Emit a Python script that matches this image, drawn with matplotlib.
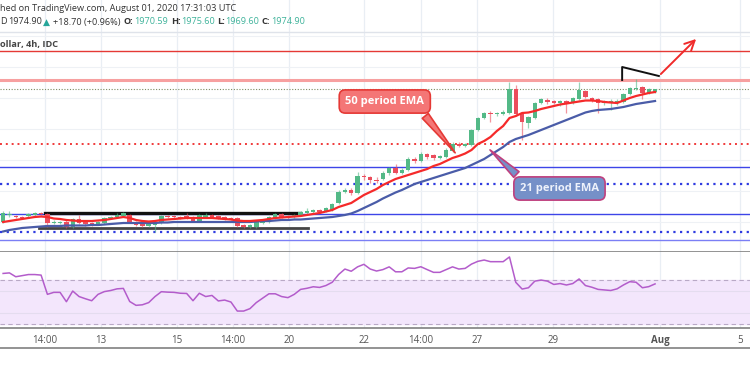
import numpy as np
import matplotlib
matplotlib.use('Agg')
import matplotlib.pyplot as plt
from matplotlib.lines import Line2D

plt.rcParams['font.family'] = ['Open Sans', 'DejaVu Sans']

# 4h candles, XAU/USD, Jul 10 - Jul 31 2020
opens = [1789.2, 1799, 1797.6, 1796.2, 1797.6, 1799, 1801.8, 1800.4, 1787.8, 1787.8,
         1789.2, 1782.2, 1793.4, 1789.2, 1787.8, 1786.4, 1787.8, 1794.8, 1796.2, 1797.6,
         1799, 1789.2, 1786.4, 1783.6, 1785, 1787.8, 1797.6, 1797.6, 1796.2, 1797.6,
         1796.2, 1790.6, 1796.2, 1799, 1797.6, 1796.2, 1794.8, 1794.8, 1785, 1782.2,
         1782.2, 1787.8, 1789.2, 1794.8, 1800.4, 1797.6, 1796.2, 1799, 1801.8, 1803.2,
         1806, 1804.6, 1806, 1815.8, 1831.2, 1834, 1829.8, 1853.6, 1852.2, 1848,
         1849.4, 1857.8, 1864.8, 1857.8, 1862, 1877.4, 1874.6, 1884.4, 1883, 1878.8,
         1880.2, 1888.6, 1898.4, 1895.6, 1897, 1918, 1934.8, 1941.8, 1940.4, 1940.4,
         1941.8, 1975.4, 1941.8, 1927.8, 1934.8, 1955.8, 1960, 1958.6, 1955.8, 1958.6,
         1955.8, 1961.4, 1972.6, 1962.8, 1961.4, 1955.8, 1955.8, 1955.8, 1957.2, 1968.4,
         1976.1, 1978.2, 1969.8, 1970.59]
highs = [1804.6, 1804.6, 1799, 1797.6, 1801.8, 1803.2, 1803.2, 1801.8, 1792, 1790.6,
         1792, 1794.8, 1799, 1790.6, 1789.2, 1790.6, 1796.2, 1797.6, 1801.8, 1803.2,
         1800.4, 1790.6, 1787.8, 1789.2, 1792, 1799, 1799, 1799, 1797.6, 1801.8,
         1797.6, 1800.4, 1801.8, 1800.4, 1799, 1797.6, 1796.2, 1796.2, 1786.4, 1786.4,
         1790.6, 1792, 1797.6, 1801.8, 1801.8, 1799, 1800.4, 1804.6, 1808.8, 1807.4,
         1807.4, 1810.2, 1815.8, 1834, 1836.8, 1836.8, 1859.2, 1856.4, 1853.6, 1852.2,
         1860.6, 1866.2, 1870.4, 1864.8, 1880.2, 1880.2, 1887.2, 1885.8, 1884.4, 1883,
         1892.8, 1901.2, 1901.2, 1899.8, 1919.4, 1936.2, 1943.2, 1944.6, 1943.2, 1946,
         1985.2, 1981, 1943.2, 1937.6, 1957.2, 1962.8, 1962.8, 1960, 1960, 1960,
         1964.2, 1985.2, 1974, 1964.2, 1962.8, 1960, 1961.4, 1961.4, 1969.8, 1978.2,
         1989.4, 1979.6, 1976.8, 1975.6]
lows = [1787.8, 1796.2, 1794.8, 1794.1, 1796.2, 1797.6, 1799, 1782.2, 1786.4, 1786.4,
        1780.8, 1780.8, 1786.4, 1783.6, 1783.6, 1785, 1786.4, 1793.4, 1794.8, 1796.2,
        1787.8, 1783.6, 1782.2, 1782.2, 1775.2, 1786.4, 1794.8, 1794.8, 1793.4, 1793.4,
        1789.2, 1789.2, 1794.8, 1794.8, 1793.4, 1792, 1792, 1782.2, 1780.8, 1780.8,
        1780.8, 1786.4, 1787.8, 1793.4, 1794.8, 1793.4, 1794.8, 1797.6, 1800.4, 1801.8,
        1801.8, 1803.2, 1804.6, 1814.4, 1829.8, 1827, 1828.4, 1848, 1843.8, 1843.8,
        1848, 1855, 1856.4, 1856.4, 1860.6, 1871.8, 1873.2, 1877.4, 1876, 1877.4,
        1878.8, 1887.2, 1894.2, 1894.2, 1895.6, 1916.6, 1933.4, 1929.2, 1937.6, 1939,
        1940.4, 1937.6, 1904, 1920.8, 1933.4, 1954.4, 1954.4, 1954.4, 1951.6, 1941.8,
        1954.4, 1960, 1962.8, 1957.2, 1941.8, 1953, 1946, 1953, 1955.8, 1967,
        1974, 1961.4, 1968.4, 1969.6]
closes = [1801.8, 1800.4, 1796.2, 1795.5, 1800.4, 1801.8, 1800.4, 1787.8, 1789.2, 1789.2,
          1782.2, 1793.4, 1787.8, 1786.4, 1785, 1789.2, 1794.8, 1796.2, 1799, 1801.8,
          1789.2, 1785, 1783.6, 1787.8, 1786.4, 1797.6, 1796.2, 1796.2, 1794.8, 1794.8,
          1790.6, 1799, 1799, 1796.2, 1794.8, 1793.4, 1793.4, 1783.6, 1782.2, 1785,
          1789.2, 1790.6, 1796.2, 1800.4, 1796.2, 1794.8, 1799, 1803.2, 1804.6, 1806,
          1803.2, 1808.8, 1814.4, 1831.2, 1834, 1829.8, 1853.6, 1852.2, 1848, 1847.3,
          1857.8, 1864.8, 1857.8, 1862, 1877.4, 1874.6, 1884.4, 1880.2, 1878.8, 1881.6,
          1890, 1898.4, 1895.6, 1897.7, 1918, 1934.8, 1941.8, 1940.4, 1941.8, 1943.2,
          1975.4, 1940.4, 1929.2, 1936.2, 1955.8, 1961.4, 1957.2, 1956.5, 1958.6, 1954.4,
          1962.8, 1974, 1964.2, 1958.6, 1955.8, 1958.6, 1958.6, 1959.3, 1968.4, 1976.8,
          1976.8, 1969.8, 1975.4, 1974.9]

# moving averages as drawn on the chart
ema_red = [1789.2, 1790.6, 1792, 1793.4, 1794.8, 1796.2, 1796.9, 1796.2, 1794.1, 1793.4,
           1792, 1791.3, 1790.6, 1790.6, 1790.6, 1791.3, 1792, 1793.4, 1794.8, 1796.2,
           1794.8, 1792, 1790.6, 1789.9, 1790.6, 1792, 1792.7, 1793.4, 1794.1, 1794.8,
           1794.8, 1794.8, 1794.8, 1794.8, 1794.1, 1793.4, 1792.7, 1791.3, 1790.6, 1790.6,
           1791.3, 1792, 1793.4, 1794.8, 1795.5, 1796.2, 1796.9, 1797.6, 1799, 1800.4,
           1801.8, 1803.9, 1806, 1810.2, 1813, 1815.8, 1821.4, 1827, 1831.2, 1835.4,
           1841, 1845.2, 1849.4, 1852.2, 1855, 1857.8, 1860.6, 1863.4, 1867.6, 1870.4,
           1874.6, 1878.8, 1881.6, 1885.1, 1890, 1898.4, 1902.6, 1908.2, 1916.6, 1923.6,
           1934.8, 1937.6, 1941.8, 1942.5, 1944.6, 1947.4, 1949.5, 1951.6, 1953.7, 1955.1,
           1956.5, 1957.9, 1959.3, 1959.3, 1958.6, 1957.2, 1956.5, 1955.8, 1959.3, 1962.8,
           1965.6, 1967.7, 1969.8, 1971.2]
ema_blue = [1775.9, 1778, 1779.4, 1780.8, 1781.5, 1782.2, 1782.9, 1783.6, 1783.6, 1783.6,
            1784.3, 1784.3, 1784.3, 1784.3, 1785, 1785, 1785.7, 1786.4, 1787.1, 1787.8,
            1787.8, 1787.8, 1787.8, 1787.8, 1787.8, 1788.5, 1788.5, 1789.2, 1789.2, 1789.2,
            1789.2, 1789.2, 1789.2, 1789.2, 1789.2, 1789.2, 1789.2, 1789.2, 1789.2, 1789.2,
            1789.9, 1790.6, 1790.6, 1791.3, 1792, 1792, 1792.7, 1792.7, 1793.4, 1794.1,
            1794.8, 1795.5, 1796.2, 1797.6, 1799, 1801.1, 1804.6, 1808.8, 1813, 1817.2,
            1822.1, 1826.3, 1830.5, 1834, 1838.2, 1842.4, 1845.2, 1848, 1850.8, 1853.6,
            1856.4, 1859.2, 1862, 1864.8, 1869, 1873.2, 1877.4, 1883, 1888.6, 1894.2,
            1901.2, 1905.4, 1908.2, 1911, 1914.5, 1918, 1921.5, 1925, 1928.5, 1932,
            1935.5, 1939, 1942.5, 1944.6, 1946, 1946.7, 1947.4, 1948.8, 1950.2, 1952.3,
            1954.4, 1955.8, 1957.2, 1958.6]

rsi = [76, 76.5, 73, 74, 75, 75, 74.5, 57, 58.8, 58.8,
       50.3, 60, 55, 53, 51.2, 57, 59.5, 60.5, 62, 62.4,
       50.5, 47, 47.5, 49.5, 55, 59.4, 59, 58.8, 58, 57.8,
       51.2, 58, 55, 56, 51, 51.8, 50, 41.8, 41.8, 44,
       49.5, 53.5, 57.5, 57.5, 55, 54, 57, 61.5, 62.5, 63.9,
       63.3, 65, 68, 75, 80, 78, 82, 84.3, 80, 78.2,
       79.5, 82, 77.5, 77.5, 81, 80.6, 82.1, 79.5, 77, 77,
       79.5, 82, 80, 80.6, 84.5, 87, 88.2, 86.7, 86.7, 86.7,
       91, 67.9, 61.8, 63, 69, 70, 69, 66, 66.8, 65.5,
       66.8, 71, 65, 63.5, 61.5, 61, 60.5, 62, 65.5, 68.5,
       68, 63, 64, 66.5]

tick_pos = [6.6, 15.5, 27.5, 36.3, 45.2, 57.0, 66.0, 74.9, 86.9, 103.8, 116.4]
tick_lbl = ['14:00', '13', '15', '14:00', '20', '22', '14:00', '27', '29', 'Aug', '5']

# horizontal levels drawn by the author
lvl_red_top = 2028.6
lvl_pink = 1988.0
lvl_red_dot = 1898.4
lvl_blue_solid = [1866.2, 1800.4]
lvl_blue_dot = [1842.4, 1775.9]
lvl_blue_low = 1764.0

fig = plt.figure(figsize=(7.5, 3.75), dpi=100)
ax = fig.add_axes([0, 123 / 375, 1, 252 / 375])
axr = fig.add_axes([0, 47 / 375, 1, 76 / 375])

x = np.arange(len(opens))
o = np.array(opens)
c = np.array(closes)
up = c >= o

for a in (ax, axr):
    a.set_xlim(-0.49, 118.0)
    for p in tick_pos:
        a.axvline(p, color='#e9eef4', lw=0.9, zorder=0)
    for s in ('top', 'left', 'right'):
        a.spines[s].set_visible(False)
    a.spines['bottom'].set_color('#808080')
    a.spines['bottom'].set_linewidth(1.2)
    a.set_yticks([])

ax.set_ylim(1747.2, 2100)
for g in [2049.4, 2006.2, 1962.8, 1919.4, 1876, 1832.6, 1789.2]:
    ax.axhline(g, color='#eef1f5', lw=0.8, zorder=0)
ax.axhline(2054.8, color='#dfe3ea', lw=1.0, zorder=0)
ax.set_xticks([])

# levels
ax.axhline(lvl_red_top, color='#e53935', lw=1.0, zorder=1)
ax.axhline(lvl_pink, color='#f7a0a0', lw=2.2, zorder=1)
ax.axhline(closes[-1], color='#7d8b64', lw=0.8, ls=(0, (1, 1.5)), zorder=1)
ax.axhline(lvl_red_dot, color='#f03a3a', lw=1.4, ls=(0, (1, 2)), zorder=1)
for v in lvl_blue_solid:
    ax.axhline(v, color='#3d45e8', lw=1.0, zorder=1)
for v in lvl_blue_dot:
    ax.axhline(v, color='#2f3be0', lw=1.6, ls=(0, (1, 2)), zorder=1)
ax.axhline(lvl_blue_low, color='#7b7ff5', lw=1.0, zorder=1)

# range box
ax.plot([6.6, 46.9], [1801.8, 1801.8], color='#111111', lw=2.4, zorder=2)
ax.plot([5.7, 48.2], [1781.2, 1781.2], color='#444444', lw=2.0, zorder=2)

# candles
body_col = np.where(up, '#53b987', '#eb4d5c')
ax.vlines(x, lows, highs, colors=body_col, lw=0.9, alpha=0.6, zorder=3)
ax.bar(x, np.maximum(np.abs(c - o), 0.9), bottom=np.minimum(o, c), width=0.7,
       color=body_col, zorder=4)

ax.plot(x, ema_blue, color='#4a5ca8', lw=1.6, zorder=5)
ax.plot(x, ema_red, color='#f52a2a', lw=1.6, zorder=5)

# breakout sketch
ax.plot([97.8, 97.8, 103.6], [1988, 2006.2, 1993.6], color='#111111', lw=1.4, zorder=6)
ax.annotate('', xy=(109.8, 2048.2), xytext=(103.6, 1993.6),
            arrowprops=dict(arrowstyle='->,head_length=0.7,head_width=0.35',
                            color='#f02a2a', lw=1.4))

# callouts
ax.annotate('50 period EMA', xy=(71.7, 1883), xytext=(60.3, 1957.9),
            ha='center', va='center', fontsize=8, fontweight='bold', color='white',
            bbox=dict(boxstyle='round,pad=0.55', fc='#f47676', ec='#e53935', lw=1.2),
            arrowprops=dict(arrowstyle='wedge,tail_width=0.7,shrink_factor=0.5',
                            fc='#f47676', ec='#e53935', lw=1.2, relpos=(0.9, 0.2)),
            zorder=7)
ax.annotate('21 period EMA', xy=(76.6, 1892.8), xytext=(87.9, 1836.1),
            ha='center', va='center', fontsize=8, fontweight='bold', color='#eef2fb',
            bbox=dict(boxstyle='round,pad=0.55', fc='#7590c8', ec='#c0407e', lw=1.2),
            arrowprops=dict(arrowstyle='wedge,tail_width=0.7,shrink_factor=0.5',
                            fc='#7590c8', ec='#c0407e', lw=1.2, relpos=(0.1, 0.8)),
            zorder=7)

# RSI pane
axr.set_ylim(26.4, 95.5)
axr.axhspan(30, 70, color='#f3e6fc', zorder=0)
for g in (40, 60):
    axr.axhline(g, color='#e4dcef', lw=0.8, zorder=0)
for g in (30, 70):
    axr.axhline(g, color='#b9a9c6', lw=0.8, ls=(0, (4, 3)), zorder=1)
axr.plot(x, rsi, color='#b35ccb', lw=1.1, zorder=3)
axr.set_xticks(tick_pos)
axr.set_xticklabels(tick_lbl, fontsize=7, color='#555555')
axr.get_xticklabels()[9].set_fontweight('bold')
axr.tick_params(axis='x', length=0, pad=5)

fig.add_artist(Line2D([0, 1], [1 - 348 / 375, 1 - 348 / 375], color='#808080', lw=1.2))

# header
fig.text(0.5 / 750, 1 - 8.5 / 375, 'hed on TradingView.com, August 01, 2020 17:31:03 UTC',
         fontsize=6.6, color='#333333', va='center')
hy = 1 - 22 / 375
parts = [(0.5, 'D', '#333333'), (8, '1974.90', '#333333'), (43, '▲', '#26a69a'),
         (53, '+18.70 (+0.96%)', '#333333'), (124, 'O:', '#333333'), (134, '1970.59', '#3fb39b'),
         (171, 'H:', '#333333'), (181, '1975.60', '#3fb39b'), (217, 'L:', '#333333'),
         (225, '1969.60', '#3fb39b'), (262, 'C:', '#333333'), (271, '1974.90', '#3fb39b')]
for px, t, col in parts:
    fig.text(px / 750, hy, t, fontsize=6.6, color=col, va='center',
             fontweight='bold' if t.endswith(':') else 'normal')
fig.text(0.5 / 750, 1 - 44.5 / 375, 'ollar, 4h, IDC', fontsize=6.6, color='#444444',
         va='center', fontweight='bold')

fig.savefig('out.png', dpi=100)
